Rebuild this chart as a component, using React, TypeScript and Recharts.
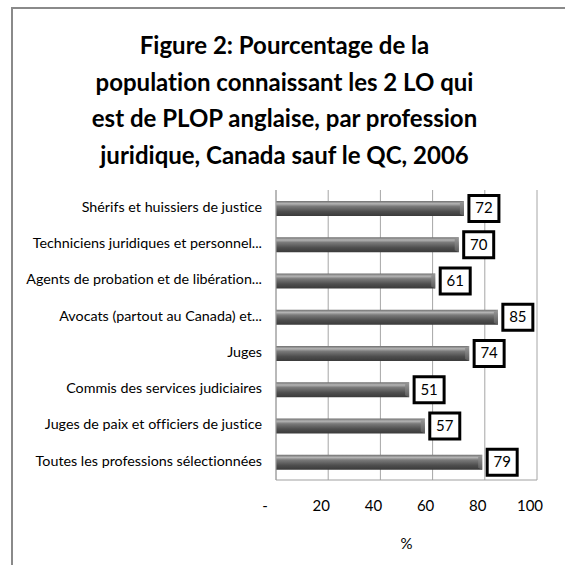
import React from 'react';
import { BarChart, Bar, XAxis, YAxis, CartesianGrid, LabelList } from 'recharts';

const categories = [
  'Shérifs et huissiers de justice',
  'Techniciens juridiques et personnel...',
  'Agents de probation et de libération...',
  'Avocats (partout au Canada) et...',
  'Juges',
  'Commis des services judiciaires',
  'Juges de paix et officiers de justice',
  'Toutes les professions sélectionnées',
];
const values = [72, 70, 61, 85, 74, 51, 57, 79];
const xTicks = [0, 20, 40, 60, 80, 100];
const titleLines = [
  'Figure 2: Pourcentage de la',
  'population connaissant les 2 LO qui',
  'est de PLOP anglaise, par profession',
  'juridique, Canada sauf le QC, 2006',
];

const data = categories.map((name, i) => ({ name, value: values[i] }));

const FONT = 'Lato, "Open Sans", sans-serif';

const BarShape = (props: any) => {
  const { x, y, width, height } = props;
  if (!width || width <= 0) return null;
  const bev = 4;
  return (
    <g>
      <rect x={x} y={y} width={width} height={height} fill="url(#barGrad)" />
      <polygon
        points={`${x + width - bev},${y + 2} ${x + width},${y} ${x + width},${y + height} ${x + width - bev},${y + height - 2}`}
        fill="url(#bevGrad)"
      />
    </g>
  );
};

const ValueLabel = (props: any) => {
  const { x, y, width, height, value } = props;
  const bw = 30;
  const bh = 26;
  const bx = x + width + 5;
  const cy = y + height / 2;
  return (
    <g>
      <rect x={bx} y={cy - bh / 2} width={bw} height={bh} fill="#fff" stroke="#000" strokeWidth={3} />
      <text x={bx + bw / 2} y={cy + 1} textAnchor="middle" dominantBaseline="middle" fontSize={15} fontFamily={FONT} fill="#000">
        {value}
      </text>
    </g>
  );
};

const XTick = (props: any) => {
  const { x, y, payload } = props;
  const label = payload.value === 0 ? '-' : String(payload.value);
  const dx = payload.value === 0 ? -11 : -7;
  return (
    <text x={x + dx} y={y} textAnchor="middle" dominantBaseline="middle" fontSize={15} fontFamily={FONT} fill="#000">
      {label}
    </text>
  );
};

const YTick = (props: any) => {
  const { y, payload } = props;
  return (
    <text x={262} y={y} textAnchor="end" dominantBaseline="middle" fontSize={14.3} fontFamily={FONT} fill="#000">
      {payload.value}
    </text>
  );
};

export default function App() {
  return (
    <div
      style={{
        position: 'absolute',
        left: 0,
        top: 0,
        width: 565,
        height: 565,
        background: '#fff',
        overflow: 'hidden',
        fontVariantLigatures: 'none',
        fontFeatureSettings: '"liga" 0, "clig" 0',
      }}
    >
      <div
        style={{
          position: 'absolute',
          left: 11,
          top: 7,
          width: 600,
          height: 600,
          borderLeft: '2px solid #8a8a8a',
          borderTop: '2px solid #8a8a8a',
        }}
      />
      <div
        style={{
          position: 'absolute',
          left: 0,
          width: 569,
          top: 27,
          textAlign: 'center',
          fontFamily: FONT,
          fontWeight: 700,
          fontSize: 24,
          lineHeight: '36.5px',
          color: '#000',
        }}
      >
        {titleLines.map((t, i) => (
          <div key={i}>{t}</div>
        ))}
      </div>
      <div style={{ position: 'absolute', left: 0, top: 0 }}>
        <BarChart
          width={565}
          height={565}
          data={data}
          layout="vertical"
          margin={{ top: 190, right: 28, bottom: 0, left: 0 }}
          barCategoryGap={10}
        >
          <defs>
            <linearGradient id="barGrad" x1="0" y1="0" x2="0" y2="1">
              <stop offset="0%" stopColor="#6e6e6e" />
              <stop offset="18%" stopColor="#b4b4b4" />
              <stop offset="35%" stopColor="#7a7a7a" />
              <stop offset="70%" stopColor="#4e4e4e" />
              <stop offset="100%" stopColor="#3a3a3a" />
            </linearGradient>
            <linearGradient id="bevGrad" x1="0" y1="0" x2="0" y2="1">
              <stop offset="0%" stopColor="#9a9a9a" />
              <stop offset="50%" stopColor="#7a7a7a" />
              <stop offset="100%" stopColor="#5a5a5a" />
            </linearGradient>
          </defs>
          <CartesianGrid horizontal={false} vertical={true} stroke="#a6a6a6" strokeWidth={1} />
          <XAxis
            type="number"
            domain={[0, 100]}
            ticks={xTicks}
            height={85}
            tickLine={false}
            axisLine={{ stroke: '#a0a0a0' }}
            tick={<XTick />}
            tickSize={0}
            tickMargin={27}
            interval={0}
            label={{ value: '%', position: 'insideBottom', offset: 16, fontSize: 15, fontFamily: FONT, fill: '#000' }}
          />
          <YAxis
            type="category"
            dataKey="name"
            width={276}
            tickLine={false}
            axisLine={{ stroke: '#a0a0a0' }}
            tick={<YTick />}
            interval={0}
          />
          <Bar dataKey="value" barSize={15} shape={<BarShape />} isAnimationActive={false}>
            <LabelList dataKey="value" content={<ValueLabel />} />
          </Bar>
        </BarChart>
      </div>
    </div>
  );
}
